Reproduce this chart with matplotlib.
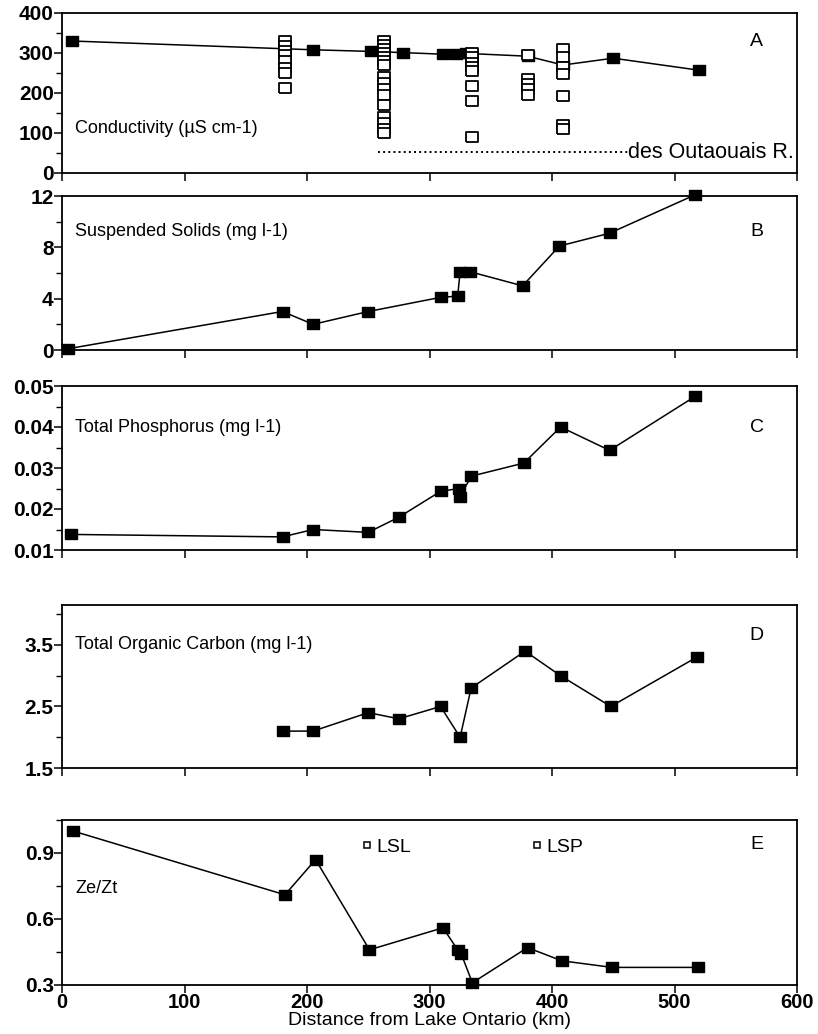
import matplotlib.pyplot as plt
from matplotlib.lines import Line2D
from matplotlib.ticker import MultipleLocator

plt.rcParams['font.family'] = ['Liberation Sans', 'DejaVu Sans']

# A - conductivity (filled = main stations, open = LSL / LSP transects)
cond_km = [8, 205, 252, 278, 311, 322, 330, 380, 409, 450, 520]
cond = [330, 308, 304, 301, 297, 298, 299, 292, 270, 287, 257]
lsl_km = [182] * 8 + [263] * 16
lsl_cond = [330, 318, 305, 295, 280, 262, 250, 213,
            330, 320, 310, 300, 290, 280, 270, 240, 225, 210, 195, 170, 140, 125, 110, 100]
lsp_km = [335] * 8 + [380] * 5 + [409] * 7
lsp_cond = [300, 290, 275, 265, 255, 218, 180, 90,
            295, 235, 222, 210, 195,
            310, 290, 265, 248, 192, 120, 110]
ottawa_km = [258, 462]
ottawa_cond = [52, 52]

# B - suspended solids
ss_km = [5, 180, 205, 250, 309, 323, 325, 333, 376, 406, 447, 517]
ss = [0.1, 3.0, 2.0, 3.0, 4.1, 4.2, 6.1, 6.1, 5.0, 8.1, 9.1, 12.1]

# C - total phosphorus
tp_km = [7, 180, 205, 250, 275, 309, 324, 325, 334, 377, 407, 447, 517]
tp = [0.0138, 0.0132, 0.0150, 0.0143, 0.0180, 0.0243, 0.0250, 0.0230,
      0.0280, 0.0312, 0.0400, 0.0343, 0.0475]

# D - total organic carbon
toc_km = [180, 205, 250, 275, 309, 325, 334, 378, 407, 448, 518]
toc = [2.1, 2.1, 2.4, 2.3, 2.5, 2.0, 2.8, 3.4, 3.0, 2.5, 3.3]

# E - Ze/Zt
ze_km = [9, 182, 207, 251, 311, 323, 326, 335, 380, 408, 449, 519]
ze = [1.0, 0.71, 0.87, 0.46, 0.56, 0.46, 0.44, 0.31, 0.47, 0.41, 0.38, 0.38]

rect = [(-1.2, -1), (1.2, -1), (1.2, 1), (-1.2, 1), (-1.2, -1)]

W, H = 818, 1034
fig = plt.figure(figsize=(W / 100, H / 100), dpi=100)
left, right = 62, 797
boxes = [(13, 173), (196, 350), (386, 550), (605, 768), (820, 985)]
axes = []
for top, bottom in boxes:
    ax = fig.add_axes([left / W, 1 - bottom / H, (right - left) / W, (bottom - top) / H])
    axes.append(ax)

for ax in axes:
    ax.set_xlim(0, 600)
    ax.xaxis.set_major_locator(MultipleLocator(100))
    ax.tick_params(direction='out', length=6, width=1.1, labelsize=15, pad=0)
    ax.tick_params(which='minor', direction='out', length=4, width=1.0)
    for s in ax.spines.values():
        s.set_linewidth(1.3)
    if ax is not axes[-1]:
        ax.tick_params(axis='x', labelbottom=False)


def series(ax, x, y):
    ax.plot(x, y, color='black', lw=1.1, marker=rect, ms=8, mfc='black',
            mec='black', clip_on=False, zorder=3)


def label(ax, text, letter, y, ly=None):
    ax.text(11, y, text, fontsize=13, va='center', ha='left')
    ax.text(567, ly if ly is not None else y, letter, fontsize=14, va='center', ha='center')


# A
ax = axes[0]
series(ax, cond_km, cond)
ax.plot(lsl_km, lsl_cond, ls='none', marker=rect, ms=8, mfc='white', mec='black', mew=1.3, zorder=4)
ax.plot(lsp_km, lsp_cond, ls='none', marker=rect, ms=8, mfc='white', mec='black', mew=1.3, zorder=4)
ax.plot(ottawa_km, ottawa_cond, color='black', ls=':', lw=1.4)
ax.text(ottawa_km[-1], ottawa_cond[-1], 'des Outaouais R.', fontsize=15.5, va='center', ha='left')
ax.set_ylim(0, 400)
ax.yaxis.set_major_locator(MultipleLocator(100))
ax.yaxis.set_minor_locator(MultipleLocator(50))
label(ax, 'Conductivity (µS cm-1)', 'A', 112, 330)

# B
ax = axes[1]
series(ax, ss_km, ss)
ax.set_ylim(0, 12)
ax.yaxis.set_major_locator(MultipleLocator(4))
ax.yaxis.set_minor_locator(MultipleLocator(2))
label(ax, 'Suspended Solids (mg l-1)', 'B', 9.2)

# C
ax = axes[2]
series(ax, tp_km, tp)
ax.set_ylim(0.01, 0.05)
ax.yaxis.set_major_locator(MultipleLocator(0.01))
ax.yaxis.set_minor_locator(MultipleLocator(0.005))
ax.yaxis.set_major_formatter(lambda v, p: f'{v:.2f}')
label(ax, 'Total Phosphorus (mg l-1)', 'C', 0.0398)

# D
ax = axes[3]
series(ax, toc_km, toc)
ax.set_ylim(1.5, 4.15)
ax.yaxis.set_major_locator(MultipleLocator(1.0, offset=0.5))
ax.yaxis.set_minor_locator(MultipleLocator(0.5))
label(ax, 'Total Organic Carbon (mg l-1)', 'D', 3.5, 3.65)

# E
ax = axes[4]
series(ax, ze_km, ze)
ax.set_ylim(0.3, 1.05)
ax.yaxis.set_major_locator(MultipleLocator(0.3))
ax.yaxis.set_minor_locator(MultipleLocator(0.15))
ax.tick_params(axis='x', labelsize=14.5)
label(ax, 'Ze/Zt', 'E', 0.74, 0.94)
handles = [Line2D([], [], ls='none', marker='s', ms=5, mfc='white', mec='black', mew=1.1)
           for _ in range(2)]
ax.legend(handles, ['LSL', 'LSP'], loc='upper left', bbox_to_anchor=(0.39, 0.97), ncol=2,
          frameon=False, fontsize=14, handlelength=0.5, handletextpad=0.25, columnspacing=6.2,
          borderpad=0.2)
ax.set_xlabel('Distance from Lake Ontario (km)', fontsize=14, labelpad=0)

for ax in axes:
    for t in ax.get_xticklabels() + ax.get_yticklabels():
        t.set_fontweight('bold')

fig.savefig('out.png', dpi=100)
